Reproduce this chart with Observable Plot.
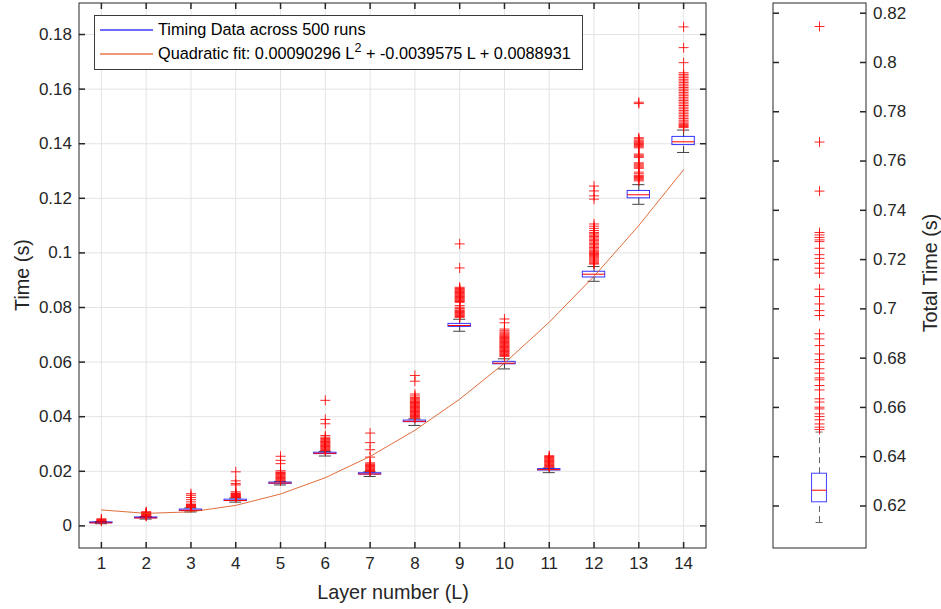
<!DOCTYPE html>
<html>
<head>
<meta charset="utf-8">
<script src="https://cdn.jsdelivr.net/npm/d3@7"></script>
<script src="https://cdn.jsdelivr.net/npm/@observablehq/plot@0.6"></script>
<style>
  html, body { margin: 0; padding: 0; background: #fff; }
  #wrap { position: relative; width: 941px; height: 609px; overflow: hidden; font-family: "Liberation Sans", Arial, Helvetica, sans-serif; color: #262626; }
  #left, #right { position: absolute; top: 0; }
  #left { left: 0; }
  #right { left: 760px; }
  .lbl { position: absolute; width: 0; height: 0; }
  .lbl span { position: absolute; white-space: nowrap; transform: translate(-50%, -50%); font-size: 19.8px; color: #262626; }
  .rot span { transform: translate(-50%, -50%) rotate(-90deg); }
  #legend { position: absolute; left: 94px; top: 15px; width: 487px; height: 53px; border: 1px solid #3a3a3a; background: #fff; font-size: 16.3px; color: #000; }
  .entry { position: absolute; left: 0; height: 20px; }
  .entry .ln { position: absolute; left: 5px; width: 53px; top: 10px; height: 1.5px; }
  .entry .tx { position: absolute; left: 63px; top: 0; line-height: 20px; white-space: nowrap; }
  sup { font-size: 12.5px; line-height: 0; vertical-align: 0; position: relative; top: -7px; }
</style>
</head>
<body>
<div id="wrap">
  <div id="left"></div>
  <div id="right"></div>
  <div class="lbl" style="left:393px; top:592px;"><span>Layer number (L)</span></div>
  <div class="lbl rot" style="left:22px; top:275px;"><span>Time (s)</span></div>
  <div class="lbl rot" style="left:930px; top:273px;"><span>Total Time (s)</span></div>
  <div id="legend">
    <div class="entry" style="top:3px;"><div class="ln" style="background:#6b6bff;"></div><div class="tx" id="leg1"></div></div>
    <div class="entry" style="top:27px;"><div class="ln" style="background:#ee9a78;"></div><div class="tx" id="leg2"></div></div>
  </div>
</div>
<script>
// ---------------- DATA ----------------
const layers = [1, 2, 3, 4, 5, 6, 7, 8, 9, 10, 11, 12, 13, 14];
const q1 =          [0.0010, 0.0028, 0.0055, 0.0091, 0.0154, 0.0263, 0.0188, 0.0380, 0.0729, 0.0592, 0.0203, 0.0910, 0.1200, 0.1395];
const medians =     [0.0011, 0.0029, 0.0057, 0.0093, 0.0157, 0.0266, 0.0190, 0.0383, 0.0734, 0.0596, 0.0206, 0.0922, 0.1213, 0.1407];
const q3 =          [0.0013, 0.0031, 0.0060, 0.0096, 0.0159, 0.0268, 0.0193, 0.0386, 0.0740, 0.0601, 0.0208, 0.0931, 0.1227, 0.1425];
const whiskerLow =  [0.0008, 0.0025, 0.0051, 0.0087, 0.0150, 0.0256, 0.0181, 0.0368, 0.0713, 0.0575, 0.0195, 0.0896, 0.1178, 0.1368];
const whiskerHigh = [0.0016, 0.0034, 0.0066, 0.0102, 0.0163, 0.0273, 0.0198, 0.0392, 0.0757, 0.0612, 0.0212, 0.0950, 0.1250, 0.1450];
const outliers = [
  [0.0017, 0.0019, 0.0021, 0.0023, 0.0026],
  [0.0035, 0.0037, 0.0039, 0.0041, 0.0043, 0.0045, 0.0047, 0.0049, 0.0052],
  [0.0068, 0.0070, 0.0072, 0.0074, 0.0076, 0.0078, 0.0080, 0.0088, 0.0096, 0.0104, 0.0112, 0.0118],
  [0.0104, 0.0106, 0.0108, 0.0110, 0.0112, 0.0114, 0.0116, 0.0118, 0.0120, 0.0125, 0.0150, 0.0155, 0.0165, 0.0198],
  [0.0165, 0.0168, 0.0171, 0.0174, 0.0177, 0.0180, 0.0183, 0.0186, 0.0189, 0.0192, 0.0195, 0.0197, 0.0202, 0.0228, 0.0240, 0.0255],
  [0.0276, 0.0279, 0.0282, 0.0285, 0.0288, 0.0291, 0.0294, 0.0297, 0.0300, 0.0303, 0.0306, 0.0309, 0.0312, 0.0316, 0.0320, 0.0325, 0.0331, 0.0374, 0.0390, 0.0460],
  [0.0200, 0.0203, 0.0206, 0.0209, 0.0212, 0.0215, 0.0218, 0.0221, 0.0224, 0.0227, 0.0231, 0.0252, 0.0279, 0.0305, 0.0340],
  [0.0395, 0.0398, 0.0401, 0.0404, 0.0407, 0.0410, 0.0413, 0.0416, 0.0419, 0.0422, 0.0425, 0.0428, 0.0431, 0.0434, 0.0437, 0.0440, 0.0443, 0.0446, 0.0449, 0.0452, 0.0455, 0.0458, 0.0462, 0.0466, 0.0470, 0.0476, 0.0483, 0.0530, 0.0551],
  [0.0764, 0.0767, 0.0770, 0.0773, 0.0776, 0.0779, 0.0782, 0.0785, 0.0788, 0.0791, 0.0796, 0.0801, 0.0807, 0.0819, 0.0822, 0.0825, 0.0828, 0.0831, 0.0834, 0.0837, 0.0840, 0.0843, 0.0846, 0.0849, 0.0852, 0.0855, 0.0858, 0.0861, 0.0864, 0.0867, 0.0870, 0.0874, 0.0945, 0.1033],
  [0.0621, 0.0624, 0.0627, 0.0630, 0.0633, 0.0636, 0.0639, 0.0642, 0.0645, 0.0648, 0.0651, 0.0654, 0.0657, 0.0660, 0.0663, 0.0666, 0.0669, 0.0672, 0.0675, 0.0678, 0.0681, 0.0684, 0.0687, 0.0690, 0.0694, 0.0698, 0.0702, 0.0706, 0.0710, 0.0715, 0.0721, 0.0744, 0.0758],
  [0.0215, 0.0218, 0.0221, 0.0224, 0.0227, 0.0230, 0.0233, 0.0236, 0.0239, 0.0242, 0.0245, 0.0248, 0.0251, 0.0254, 0.0257],
  [0.0959, 0.0962, 0.0966, 0.0970, 0.0974, 0.0978, 0.0982, 0.0986, 0.0990, 0.0994, 0.0998, 0.1002, 0.1006, 0.1010, 0.1015, 0.1020, 0.1025, 0.1030, 0.1035, 0.1040, 0.1045, 0.1050, 0.1055, 0.1060, 0.1065, 0.1070, 0.1075, 0.1082, 0.1090, 0.1098, 0.1106, 0.1197, 0.1209, 0.1227, 0.1245],
  [0.1264, 0.1268, 0.1272, 0.1276, 0.1280, 0.1284, 0.1290, 0.1296, 0.1310, 0.1314, 0.1318, 0.1322, 0.1326, 0.1330, 0.1350, 0.1354, 0.1358, 0.1362, 0.1385, 0.1389, 0.1393, 0.1397, 0.1401, 0.1405, 0.1409, 0.1413, 0.1418, 0.1422, 0.1547, 0.1552],
  [0.1459, 0.1463, 0.1467, 0.1471, 0.1475, 0.1480, 0.1486, 0.1492, 0.1498, 0.1504, 0.1510, 0.1516, 0.1522, 0.1528, 0.1534, 0.1540, 0.1546, 0.1552, 0.1558, 0.1564, 0.1570, 0.1576, 0.1582, 0.1588, 0.1594, 0.1600, 0.1606, 0.1612, 0.1618, 0.1624, 0.1630, 0.1636, 0.1642, 0.1648, 0.1654, 0.1660, 0.1697, 0.1752, 0.1828]
];
// quadratic fit values at L = 1..14 (0.00090296 L^2 - 0.0039575 L + 0.0088931)
const fitValues = [0.005839, 0.004590, 0.005147, 0.007510, 0.011680, 0.017655, 0.025436, 0.035023, 0.046415, 0.059614, 0.074619, 0.091429, 0.110046, 0.130468];

const xTicks = [1, 2, 3, 4, 5, 6, 7, 8, 9, 10, 11, 12, 13, 14];
const yTicks = [0, 0.02, 0.04, 0.06, 0.08, 0.1, 0.12, 0.14, 0.16, 0.18];
const yTickLabels = ["0", "0.02", "0.04", "0.06", "0.08", "0.1", "0.12", "0.14", "0.16", "0.18"];
const yDomain = [-0.0081, 0.19155];

// Total time panel
const totalQ1 = 0.6215;
const totalMedian = 0.6264;
const totalQ3 = 0.6331;
const totalWhiskerLow = 0.6133;
const totalWhiskerHigh = 0.6500;
const totalOutliers = [0.8146, 0.7677, 0.7478, 0.7310, 0.7300, 0.7290, 0.7280, 0.7273, 0.7246, 0.7220, 0.7205, 0.7185, 0.7165, 0.7145, 0.7080, 0.7050, 0.7020, 0.6993, 0.6973, 0.6899, 0.6878, 0.6851, 0.6817, 0.6794, 0.6783, 0.6757, 0.6739, 0.6720, 0.6712, 0.6689, 0.6671, 0.6635, 0.6622, 0.6601, 0.6594, 0.6574, 0.6563, 0.6550, 0.6533, 0.6520, 0.6510];
const totalTicks = [0.62, 0.64, 0.66, 0.68, 0.7, 0.72, 0.74, 0.76, 0.78, 0.8, 0.82];
const totalTickLabels = ["0.62", "0.64", "0.66", "0.68", "0.7", "0.72", "0.74", "0.76", "0.78", "0.8", "0.82"];
const totalDomain = [0.60295, 0.82414];

const legendLabels = ["Timing Data across 500 runs", "Quadratic fit: 0.00090296 L<sup>2</sup> + -0.0039575 L + 0.0088931"];

// ---------------- HELPERS ----------------
const plusSymbol = { draw(ctx, size) { const h = Math.sqrt(size / Math.PI); ctx.moveTo(-h, 0); ctx.lineTo(h, 0); ctx.moveTo(0, -h); ctx.lineTo(0, h); } };
const tickUp = { draw(ctx) { ctx.moveTo(0, 0); ctx.lineTo(0, -6); } };
const tickDown = { draw(ctx) { ctx.moveTo(0, 0); ctx.lineTo(0, 6); } };
const tickRight = { draw(ctx) { ctx.moveTo(0, 0); ctx.lineTo(6, 0); } };
const tickLeft = { draw(ctx) { ctx.moveTo(0, 0); ctx.lineTo(-6, 0); } };

const AX = "#262626";
const FONT = "'Liberation Sans', Arial, Helvetica, sans-serif";

const stats = layers.map((L, i) => ({
  L, q1: q1[i], med: medians[i], q3: q3[i], lo: whiskerLow[i], hi: whiskerHigh[i]
}));
const outlierPts = layers.flatMap((L, i) => outliers[i].map(v => ({ L, v })));
const fitPts = layers.map((L, i) => ({ L, v: fitValues[i] }));

const boxHalf = 0.25, capHalf = 0.135;

const left = Plot.plot({
  width: 720, height: 609,
  marginLeft: 78.5, marginRight: 14.5, marginTop: 2.5, marginBottom: 61.5,
  style: { fontFamily: FONT, color: AX, background: "transparent", overflow: "visible" },
  x: { domain: [0.5, 14.5], axis: null },
  y: { domain: yDomain, axis: null },
  marks: [
    Plot.ruleX(xTicks, { x: d => d, stroke: "#e3e3e3", strokeWidth: 1 }),
    Plot.ruleY(yTicks, { y: d => d, stroke: "#e3e3e3", strokeWidth: 1 }),
    // whiskers (dashed) and caps
    Plot.ruleX(stats, { x: "L", y1: "q3", y2: "hi", stroke: "#000", strokeDasharray: "6,4", strokeOpacity: 0.75 }),
    Plot.ruleX(stats, { x: "L", y1: "lo", y2: "q1", stroke: "#000", strokeDasharray: "6,4", strokeOpacity: 0.75 }),
    Plot.ruleY(stats, { y: "lo", x1: d => d.L - capHalf, x2: d => d.L + capHalf, stroke: "#000", strokeOpacity: 0.75 }),
    Plot.ruleY(stats, { y: "hi", x1: d => d.L - capHalf, x2: d => d.L + capHalf, stroke: "#000", strokeOpacity: 0.75 }),
    // boxes
    Plot.rect(stats, { x1: d => d.L - boxHalf, x2: d => d.L + boxHalf, y1: "q1", y2: "q3", fill: "none", stroke: "#0000ff", strokeOpacity: 0.8 }),
    Plot.ruleY(stats, { y: "med", x1: d => d.L - boxHalf, x2: d => d.L + boxHalf, stroke: "#ff0000" }),
    // outliers
    Plot.dot(outlierPts, { x: "L", y: "v", symbol: plusSymbol, r: 5, stroke: "#ff0000", fill: "none", strokeWidth: 1, strokeOpacity: 0.85 }),
    // fit line
    Plot.line(fitPts, { x: "L", y: "v", stroke: "#D95319", strokeWidth: 1, strokeOpacity: 0.85 }),
    // frame and inward ticks
    Plot.frame({ stroke: AX }),
    Plot.dot(xTicks, { x: d => d, frameAnchor: "bottom", symbol: tickUp, r: 3, stroke: AX, fill: "none" }),
    Plot.dot(xTicks, { x: d => d, frameAnchor: "top", symbol: tickDown, r: 3, stroke: AX, fill: "none" }),
    Plot.dot(yTicks, { y: d => d, frameAnchor: "left", symbol: tickRight, r: 3, stroke: AX, fill: "none" }),
    Plot.dot(yTicks, { y: d => d, frameAnchor: "right", symbol: tickLeft, r: 3, stroke: AX, fill: "none" }),
    // tick labels
    Plot.text(xTicks, { x: d => d, frameAnchor: "bottom", dy: 21, text: d => String(d), fontSize: 17, fill: AX }),
    Plot.text(yTicks, { y: d => d, frameAnchor: "left", dx: -7, textAnchor: "end", text: (d, i) => yTickLabels[i], fontSize: 17, fill: AX })
  ]
});
document.getElementById("left").appendChild(left);

const right = Plot.plot({
  width: 181, height: 609,
  marginLeft: 12.5, marginRight: 75.5, marginTop: 2.5, marginBottom: 61.5,
  style: { fontFamily: FONT, color: AX, background: "transparent", overflow: "visible" },
  x: { domain: [0.5, 1.5], axis: null },
  y: { domain: totalDomain, axis: null },
  marks: [
    Plot.ruleX([1], { x: d => d, y1: totalQ3, y2: totalWhiskerHigh, stroke: "#000", strokeDasharray: "6,4", strokeOpacity: 0.6 }),
    Plot.ruleX([1], { x: d => d, y1: totalWhiskerLow, y2: totalQ1, stroke: "#000", strokeDasharray: "6,4", strokeOpacity: 0.6 }),
    Plot.ruleY([totalWhiskerLow, totalWhiskerHigh], { y: d => d, x1: 0.9625, x2: 1.0375, stroke: "#000", strokeOpacity: 0.6 }),
    Plot.rect([1], { x1: d => d - 0.08, x2: d => d + 0.08, y1: totalQ1, y2: totalQ3, fill: "none", stroke: "#0000ff", strokeOpacity: 0.75 }),
    Plot.ruleY([totalMedian], { y: d => d, x1: 0.92, x2: 1.08, stroke: "#ff0000" }),
    Plot.dot(totalOutliers, { x: () => 1, y: d => d, symbol: plusSymbol, r: 5, stroke: "#ff0000", fill: "none", strokeWidth: 1, strokeOpacity: 0.85 }),
    Plot.frame({ stroke: AX }),
    Plot.dot(totalTicks, { y: d => d, frameAnchor: "left", symbol: tickRight, r: 3, stroke: AX, fill: "none" }),
    Plot.dot(totalTicks, { y: d => d, frameAnchor: "right", symbol: tickLeft, r: 3, stroke: AX, fill: "none" }),
    Plot.text(totalTicks, { y: d => d, frameAnchor: "right", dx: 7, textAnchor: "start", text: (d, i) => totalTickLabels[i], fontSize: 17, fill: AX })
  ]
});
document.getElementById("right").appendChild(right);

document.getElementById("leg1").innerHTML = legendLabels[0];
document.getElementById("leg2").innerHTML = legendLabels[1];
</script>
</body>
</html>
